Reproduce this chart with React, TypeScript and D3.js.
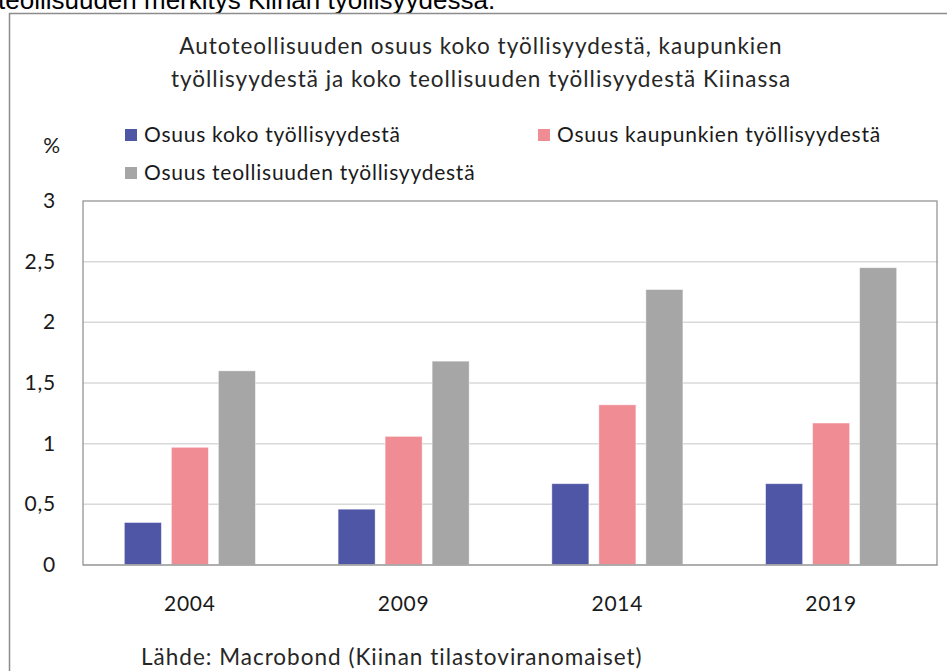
import React from 'react';
import * as d3 from 'd3';

// chart data
const years = ['2004', '2009', '2014', '2019'];
const seriesNames = [
  'Osuus koko työllisyydestä',
  'Osuus kaupunkien työllisyydestä',
  'Osuus teollisuuden työllisyydestä',
];
const totalShare = [0.35, 0.46, 0.67, 0.67];
const urbanShare = [0.97, 1.06, 1.32, 1.17];
const industryShare = [1.6, 1.68, 2.27, 2.45];
const yTicks = [0, 0.5, 1, 1.5, 2, 2.5, 3];
const colors = ['#4f56a5', '#f08c94', '#a6a6a6'];

const titleLines = [
  'Autoteollisuuden osuus koko työllisyydestä, kaupunkien',
  'työllisyydestä ja koko teollisuuden työllisyydestä Kiinassa',
];
const sourceText = 'Lähde: Macrobond (Kiinan tilastoviranomaiset)';
const topText = 'teollisuuden merkitys Kiinan työllisyydessä.';

const W = 947;
const H = 671;
const margin = { top: 201, right: 9, bottom: 106, left: 83 };
const font = 'Lato, "Open Sans", sans-serif';
// label text and title text styles
const labelStyle = { fontFamily: font, fontSize: 21, letterSpacing: 0.75, fill: '#1a1a1a' };
const titleStyle = { fontFamily: font, fontSize: 22.5, letterSpacing: 1, fill: '#262626' };

const App = () => {
  const width = W - margin.left - margin.right;
  const height = H - margin.top - margin.bottom;

  const x0 = d3.scaleBand()
    .domain(years)
    .range([0, width])
    .paddingInner(0.387)
    .paddingOuter(0.1935);

  const x1 = d3.scaleBand()
    .domain(seriesNames)
    .range([0, x0.bandwidth()])
    .paddingInner(0.213);

  const y = d3.scaleLinear().domain([0, 3]).range([height, 0]);

  const values = [totalShare, urbanShare, industryShare];
  const fmt = (v: number) => String(v).replace('.', ',');

  return (
    <svg width={W} height={H} style={{ position: 'absolute', left: 0, top: 0, background: '#fff' }}>
      {/* cut-off text above the figure */}
      <text x={-2} y={9} fontFamily='"Liberation Sans", Arial, sans-serif' fontSize={26} fill="#000">
        {topText}
      </text>
      {/* outer frame */}
      <rect x={9.5} y={13.5} width={W + 20} height={H + 20} fill="none" stroke="#8c8c8c" strokeWidth={1.5} />

      {titleLines.map((t, i) => (
        <text key={i} x={481} y={54 + i * 33} textAnchor="middle" {...titleStyle}>
          {t}
        </text>
      ))}

      {/* legend */}
      {seriesNames.map((s, i) => {
        const lx = i === 1 ? 538 : 125;
        const ly = i === 2 ? 173 : 135;
        return (
          <g key={s} transform={`translate(${lx},${ly})`}>
            <rect x={0} y={-6} width={12} height={12} fill={colors[i]} />
            <text x={19} y={7} {...labelStyle}>{s}</text>
          </g>
        );
      })}

      <text x={52} y={153} textAnchor="middle" {...labelStyle}>%</text>

      <g transform={`translate(${margin.left},${margin.top})`}>
        {yTicks.map((t) => (
          <g key={t}>
            {t > 0 && t < 3 && (
              <line x1={0} x2={width} y1={y(t)} y2={y(t)} stroke="#d9d9d9" strokeWidth={1.5} />
            )}
            <text x={-27} y={y(t) + 7} textAnchor="end" {...labelStyle}>
              {fmt(t)}
            </text>
          </g>
        ))}

        {years.map((yr, i) => (
          <g key={yr} transform={`translate(${x0(yr)},0)`}>
            {seriesNames.map((s, j) => (
              <rect
                key={s}
                x={x1(s)}
                y={y(values[j][i])}
                width={x1.bandwidth()}
                height={height - y(values[j][i])}
                fill={colors[j]}
                stroke="#ffffff"
                strokeOpacity={0.5}
                strokeWidth={0.8}
              />
            ))}
            <text x={x0.bandwidth() / 2} y={height + 46} textAnchor="middle" {...labelStyle}>
              {yr}
            </text>
          </g>
        ))}

        {/* plot frame */}
        <line x1={0} x2={width} y1={height} y2={height} stroke="#d9d9d9" strokeWidth={1.5} />
        <rect x={0} y={0} width={width - 1} height={height} fill="none" stroke="#8c8c8c" strokeWidth={1.2} />
      </g>

      <text x={141} y={665} {...titleStyle}>{sourceText}</text>
    </svg>
  );
};

export default App;
